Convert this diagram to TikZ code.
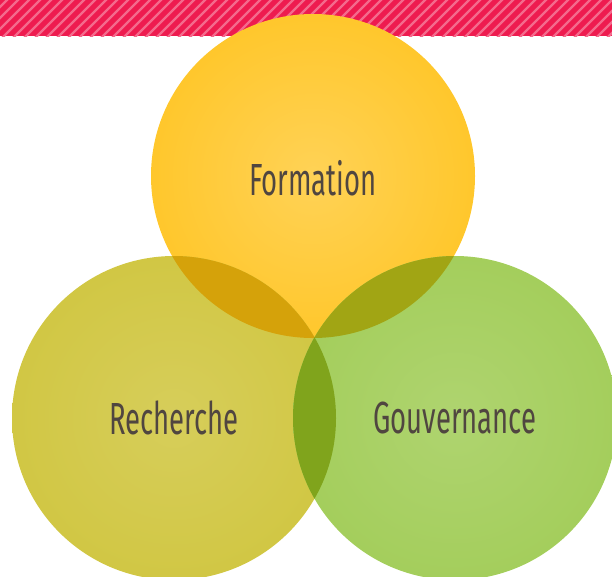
\documentclass[tikz,border=0pt]{standalone}
\usepackage{fontspec}
\newfontfamily\labelfont{Fira Sans}[FakeStretch=0.61]
\usetikzlibrary{positioning}
\definecolor{bandred}{RGB}{238,27,79}
\definecolor{bandpink}{RGB}{244,106,140}
\definecolor{formyellow}{RGB}{255,199,44}
\definecolor{rechyellow}{RGB}{209,199,68}
\definecolor{gouvgreen}{RGB}{164,206,92}
\definecolor{fryellow}{RGB}{213,162,10}
\definecolor{fgolive}{RGB}{161,165,20}
\definecolor{rggreen}{RGB}{128,164,28}
\definecolor{labelgrey}{RGB}{80,70,64}

\begin{document}
\begin{tikzpicture}[x=1pt, y=-1pt,
  topic/.style={font=\labelfont\fontsize{45}{45}\selectfont, text=labelgrey, inner sep=0pt}]
\useasboundingbox (0,0) rectangle (612,576);
% Striped band
\begin{scope}
  \clip (0,0) rectangle (612,36);
  \fill[bandred] (0,0) rectangle (612,36);
  \foreach \x in {-44,-33,...,620}
    \draw[bandpink, line width=2.2pt] (\x,40) -- (\x+44,-4);
\end{scope}
% Circles
\shade[inner color=formyellow!80!white, outer color=formyellow] (313,176) circle (162);
\shade[inner color=rechyellow!88!white, outer color=rechyellow] (174,418) circle (162);
\shade[inner color=gouvgreen!88!white, outer color=gouvgreen] (455,418) circle (162);
% Overlaps
\begin{scope}
  \clip (313,176) circle (162);
  \fill[fryellow] (174,418) circle (162);
  \fill[fgolive] (455,418) circle (162);
\end{scope}
\begin{scope}
  \clip (174,418) circle (162);
  \fill[rggreen] (455,418) circle (162);
\end{scope}
% Labels
\node[topic] (form) at (313,178) {Formation};
\node[topic] (rech) at (174,418) {Recherche};
\node[topic] (gouv) at (455,418) {Gouvernance};
\end{tikzpicture}
\end{document}
